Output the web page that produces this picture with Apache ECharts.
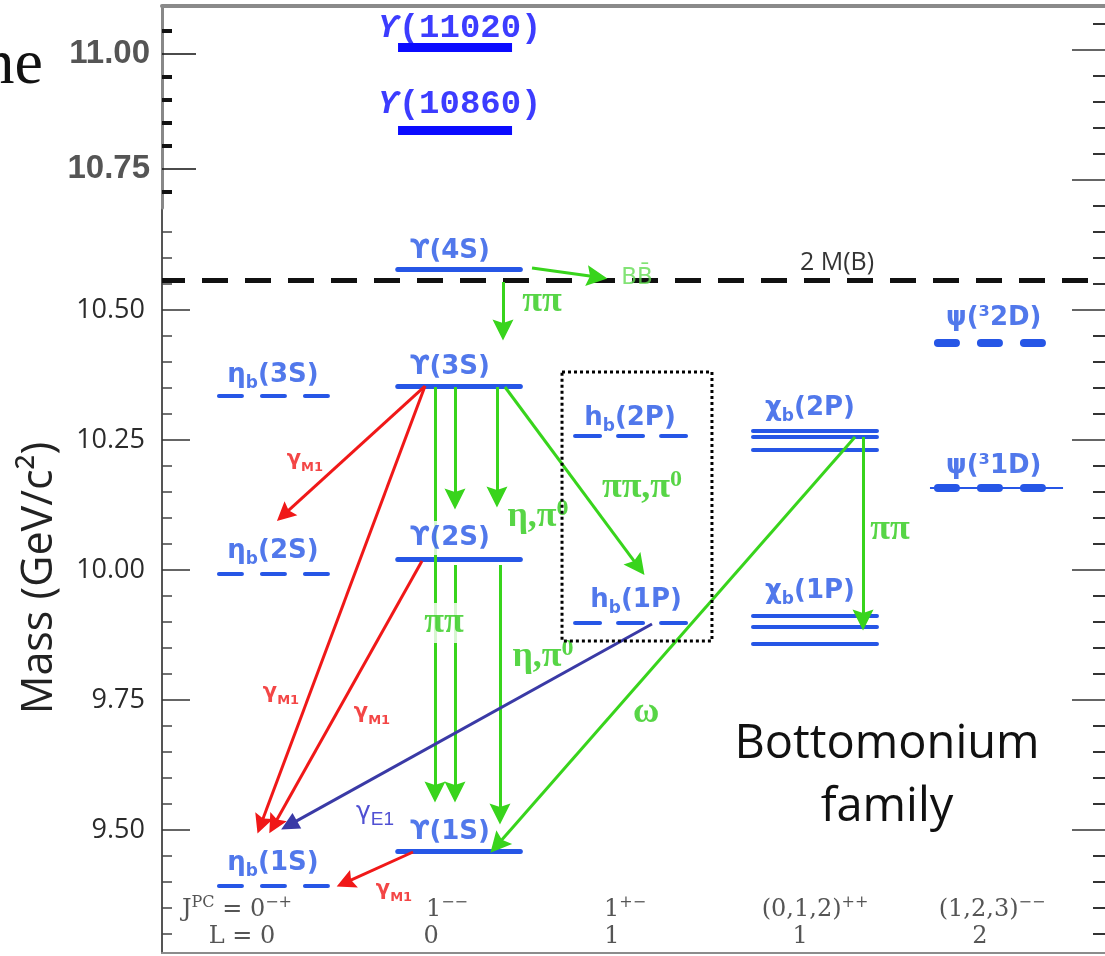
<!DOCTYPE html>
<html><head><meta charset="utf-8">
<script src="https://cdn.jsdelivr.net/npm/echarts@6/dist/echarts.min.js"></script>
<style>html,body{margin:0;padding:0;background:#fff}#c{width:1105px;height:956px}</style>
</head><body><div id="c"></div>
<script>
// ================= DATA =================
// mass axis (GeV/c^2)
const massMin = 9.26346, massMax = 11.08462;          // main frame
const insetMin = 10.6652, insetMax = 11.1043;          // pasted upper inset
const majorTicks = [9.50, 9.75, 10.00, 10.25, 10.50];
const rightMajorTicks = [9.50, 9.75, 10.00, 10.25, 10.50, 10.75, 11.00];
const insetMajorTicks = [10.75, 11.00];
const insetMinorTicks = [10.70, 10.80, 10.85, 10.90, 10.95, 11.05];

// columns (J^PC, L) – x extents of level bars in diagram units (0..100)
const colSpan = {
  etab: [6.04, 17.82], ups: [25.0, 38.0], upsHigh: [25.03, 37.12],
  hb: [43.8, 55.67], chib: [62.67, 75.82], psi2D: [81.44, 93.43], psi1D: [81.44, 95.55]
};

// levels (masses)
const upsilonNames = ['ϒ(11020)', 'ϒ(10860)', 'ϒ(4S)', 'ϒ(3S)', 'ϒ(2S)', 'ϒ(1S)'];
const upsilonMass  = [11.006, 10.846, 10.579, 10.354, 10.021, 9.460];
const upsilonLabelAt = [[31.59, 11.042], [31.59, 10.896], [30.54, 10.6135], [30.54, 10.3904], [30.54, 10.0615], [30.54, 9.4962]];
const etabNames = ['η_{b}(3S)', 'η_{b}(2S)', 'η_{b}(1S)'];
const etabMass  = [10.335, 9.992, 9.392];
const etabLabelAt = [[11.77, 10.375], [11.77, 10.036], [11.77, 9.436]];
const hbNames = ['h_{b}(2P)', 'h_{b}(1P)'];
const hbMass  = [10.258, 9.898];
const hbLabelAt = [[49.63, 10.2923], [50.27, 9.9423]];
const chibNames = ['χ_{b}(2P)', 'χ_{b}(1P)'];
const chib2PMass = [10.267, 10.256, 10.231];
const chib1PMass = [9.912, 9.890, 9.858];
const chibLabelAt = [[68.72, 10.3115], [68.72, 9.9596]];
const psiNames = ['ψ(³2D)', 'ψ(³1D)'];
const psiMass  = [10.437, 10.158];
const psiLabelAt = [[88.2, 10.4846], [88.2, 10.2000]];
const thresholdName = '2 M(B)';
const thresholdMass = 10.558;
const thresholdLabelAt = [71.58, 10.5904];

// transitions: [x0, m0, x1, m1]
const greenArrows = [
  [39.24, 10.5808, 46.13, 10.5635],   // ϒ(4S) -> BB̄
  [36.16, 10.5538, 36.16, 10.4615],   // ϒ(4S) -> ϒ(3S)
  [28.95, 10.3519, 28.95, 9.5731],    // ϒ(3S) -> ϒ(1S)
  [31.07, 10.3519, 31.07, 10.1365],   // ϒ(3S) -> ϒ(2S)
  [35.52, 10.3519, 35.52, 10.1404],   // ϒ(3S) -> ϒ(2S)
  [31.07, 10.0096, 31.07, 9.5731],    // ϒ(2S) -> ϒ(1S)
  [35.84, 10.0096, 35.84, 9.5308],    // ϒ(2S) -> ϒ(1S)
  [36.37, 10.3519, 50.50, 10.0065],   // ϒ(3S) -> hb(1P)
  [73.49, 10.2558, 35.56, 9.4712],    // χb(2P) -> ϒ(1S)
  [74.34, 10.2558, 74.34, 9.9038]     // χb(2P) -> χb(1P)
];
const redArrows = [
  [27.89, 10.3538, 12.93, 10.1065],   // ϒ(3S) -> ηb(2S)
  [27.89, 10.3538, 10.48, 9.5106],    // ϒ(3S) -> ηb(1S)
  [27.57, 10.0173, 11.87, 9.5096],    // ϒ(2S) -> ηb(1S)
  [26.62, 9.4577, 19.44, 9.3987]      // ϒ(1S) -> ηb(1S)
];
const blueArrows = [
  [51.96, 9.8962, 13.47, 9.5094]      // hb(1P) -> ηb(1S)
];
const greenLabels = [['ππ', 40.30, 10.5154], ['η,π^{0}', 39.87, 10.1019], ['ππ,π^{0}', 50.90, 10.1577],
  ['ππ', 29.90, 9.8981], ['η,π^{0}', 40.40, 9.8327], ['ω', 51.33, 9.725], ['ππ', 77.20, 10.0769]];
const decayLabel = ['BB̄', 50.37, 10.5615];
const redLabels = [['γ_{M1}', 15.16, 10.2115], ['γ_{M1}', 12.62, 9.7635], ['γ_{M1}', 22.27, 9.725], ['γ_{M1}', 24.60, 9.3846]];
const blueLabels = [['γ_{E1}', 22.59, 9.5327]];
const dottedBox = [[42.42, 10.3808], [58.32, 10.3808], [58.32, 9.8635], [42.42, 9.8635], [42.42, 10.3808]];

// quantum numbers under each column
const jpcLabels = [['J^{PC} = 0^{−+}', 7.95], ['1^{−−}', 30.22], ['1^{+−}', 49.10], ['(0,1,2)^{++}', 69.25], ['(1,2,3)^{−−}', 88.02]];
const lLabels   = [['L = 0', 8.48], ['0', 28.53], ['1', 47.72], ['1', 67.66], ['2', 86.74]];
const jpcRowMass = 9.3462, lRowMass = 9.2942;

// ================= CHART =================
const BLUE = '#2656e6', GREEN = '#38d41c', GREENT = '#2dcb18', RED = '#f01818', EBLUE = '#3a3aa6';
const HEAD = 'path://M10,0 L20,24 L10,20 L0,24 Z';

function richify(s, M, S, P) {
  const out = []; const re = /([_^])\{([^}]*)\}/g; let last = 0, mt;
  while ((mt = re.exec(s))) {
    if (mt.index > last) out.push('{' + M + '|' + s.slice(last, mt.index) + '}');
    out.push('{' + (mt[1] === '_' ? S : P) + '|' + mt[2] + '}');
    last = re.lastIndex;
  }
  if (last < s.length) out.push('{' + M + '|' + s.slice(last) + '}');
  return out.join('');
}
function range05(a, b, skip) {
  const r = [];
  for (let i = Math.round(a * 20); i <= Math.round(b * 20); i++) {
    const v = i / 20; if (!skip.some(s => Math.abs(s - v) < 1e-6)) r.push(v);
  }
  return r;
}
const leftMinor = range05(9.30, 10.65, majorTicks);
const rightMinor = range05(9.30, 11.05, rightMajorTicks);

const hLine = (span, m) => ({ coords: [[span[0], m], [span[1], m]] });
const arrowData = arr => arr.map(a => ({ coords: [[a[0], a[1]], [a[2], a[3]]] }));

const levelRich = {
  m: { fontFamily: 'DejaVu Sans', fontWeight: 'bold', fontSize: 26, color: BLUE, lineHeight: 34 },
  s: { fontFamily: 'DejaVu Sans', fontWeight: 'bold', fontSize: 17, color: BLUE, lineHeight: 17, verticalAlign: 'bottom' },
  p: { fontFamily: 'DejaVu Sans', fontWeight: 'bold', fontSize: 15, color: BLUE, lineHeight: 15, verticalAlign: 'top' },
  y: { fontFamily: 'Liberation Mono', fontWeight: 'bold', fontStyle: 'italic', fontSize: 34, color: '#0b0bff', lineHeight: 40 },
  k: { fontFamily: 'Liberation Mono', fontWeight: 'bold', fontSize: 34, color: '#0b0bff', lineHeight: 40 }
};
const greenRich = {
  g: { fontFamily: 'Liberation Serif', fontWeight: 'bold', fontSize: 36, color: GREENT, lineHeight: 40 },
  gs: { fontFamily: 'Liberation Serif', fontWeight: 'bold', fontSize: 24, color: GREENT, lineHeight: 24, verticalAlign: 'top' }
};
const redRich = {
  r: { fontFamily: 'DejaVu Sans', fontWeight: 'bold', fontSize: 21, color: RED, lineHeight: 28 },
  rs: { fontFamily: 'DejaVu Sans', fontWeight: 'bold', fontSize: 13, color: RED, lineHeight: 13, verticalAlign: 'bottom' }
};
const blueRich = {
  b: { fontFamily: 'DejaVu Sans', fontSize: 25, color: '#2424c8', lineHeight: 32 },
  bs: { fontFamily: 'Liberation Sans', fontSize: 19, color: '#2424c8', lineHeight: 19, verticalAlign: 'bottom' }
};
const qnRich = {
  t: { fontFamily: 'DejaVu Serif', fontSize: 24, color: '#2a2a2a', lineHeight: 30 },
  u: { fontFamily: 'DejaVu Serif', fontSize: 16, color: '#2a2a2a', lineHeight: 16, verticalAlign: 'top' }
};

function labelSeries(items, rich, z) {
  return {
    type: 'scatter', xAxisIndex: 0, yAxisIndex: 0, symbol: 'circle', symbolSize: 0, silent: true, z: z || 6,
    label: { show: true, position: 'inside', formatter: p => p.name, rich: rich },
    data: items
  };
}

const levelLabelItems = [];
upsilonNames.forEach((n, i) => {
  let rs;
  if (i < 2) rs = '{y|ϒ}{k|' + n.slice(1) + '}';
  else rs = richify(n, 'm', 's', 'p');
  const item = { name: rs, value: upsilonLabelAt[i] };
  if (i === 4) item.label = { backgroundColor: '#fff', padding: [0, 2] };
  levelLabelItems.push(item);
});
etabNames.forEach((n, i) => levelLabelItems.push({ name: richify(n, 'm', 's', 'p'), value: etabLabelAt[i] }));
hbNames.forEach((n, i) => levelLabelItems.push({ name: richify(n, 'm', 's', 'p'), value: hbLabelAt[i] }));
chibNames.forEach((n, i) => levelLabelItems.push({ name: richify(n, 'm', 's', 'p'), value: chibLabelAt[i] }));
psiNames.forEach((n, i) => levelLabelItems.push({ name: richify(n, 'm', 's', 'p'), value: psiLabelAt[i] }));

const greenItems = greenLabels.map((g, i) => {
  const it = { name: richify(g[0], 'g', 'gs', 'gs'), value: [g[1], g[2]] };
  if (i === 3) it.label = { backgroundColor: '#fff', padding: [0, 1] };
  return it;
});

const lineBase = { type: 'lines', coordinateSystem: 'cartesian2d', xAxisIndex: 0, yAxisIndex: 0, silent: true };

const series = [
  // threshold 2M(B)
  Object.assign({}, lineBase, { z: 2, lineStyle: { color: '#111', width: 5, opacity: 1, type: [26, 17], dashOffset: 3 },
    data: [hLine([0, 100], thresholdMass)] }),
  // Upsilon levels
  Object.assign({}, lineBase, { z: 2, lineStyle: { color: BLUE, width: 5, opacity: 1, cap: 'round' },
    data: upsilonMass.slice(2).map(m => hLine(colSpan.ups, m)) }),
  Object.assign({}, lineBase, { z: 2, lineStyle: { color: '#0b0bff', width: 9, opacity: 1 },
    data: upsilonMass.slice(0, 2).map(m => hLine(colSpan.upsHigh, m)) }),
  // eta_b (dashed)
  Object.assign({}, lineBase, { z: 2, lineStyle: { color: BLUE, width: 4, opacity: 1, type: [23, 20], cap: 'round' },
    data: etabMass.map(m => hLine(colSpan.etab, m)) }),
  // h_b (dashed)
  Object.assign({}, lineBase, { z: 2, lineStyle: { color: BLUE, width: 4, opacity: 1, type: [25, 18], cap: 'round' },
    data: hbMass.map(m => hLine(colSpan.hb, m)) }),
  // chi_b triplets
  Object.assign({}, lineBase, { z: 2, lineStyle: { color: BLUE, width: 4, opacity: 1, cap: 'round' },
    data: chib2PMass.concat(chib1PMass).map(m => hLine(colSpan.chib, m)) }),
  // psi D states
  Object.assign({}, lineBase, { z: 2, lineStyle: { color: BLUE, width: 2, opacity: 1 },
    data: [hLine(colSpan.psi1D, psiMass[1])] }),
  Object.assign({}, lineBase, { z: 2, lineStyle: { color: BLUE, width: 8, opacity: 1, type: [18, 25], cap: 'round', dashOffset: -4 },
    data: psiMass.map(m => hLine([colSpan.psi2D[0] + 0.42, colSpan.psi2D[1]], m)) }),
  // transitions
  Object.assign({}, lineBase, { z: 3, symbol: ['none', HEAD], symbolSize: 21,
    lineStyle: { color: GREEN, width: 3, opacity: 1 }, data: arrowData(greenArrows) }),
  Object.assign({}, lineBase, { z: 3, symbol: ['none', HEAD], symbolSize: 19,
    lineStyle: { color: RED, width: 3, opacity: 1 }, data: arrowData(redArrows) }),
  Object.assign({}, lineBase, { z: 4, symbol: ['none', 'triangle'], symbolSize: 18,
    lineStyle: { color: EBLUE, width: 3, opacity: 1 }, data: arrowData(blueArrows) }),
  // labels
  labelSeries(levelLabelItems, levelRich, 6),
  labelSeries(greenItems, greenRich, 6),
  labelSeries([{ name: '{d|' + decayLabel[0] + '}', value: [decayLabel[1], decayLabel[2]] }],
    { d: { fontFamily: 'DejaVu Sans', fontSize: 23, color: '#63dc52' } }, 6),
  labelSeries([{ name: '{d|' + thresholdName + '}', value: thresholdLabelAt }],
    { d: { fontFamily: 'Open Sans', fontSize: 25, color: '#000' } }, 6),
  labelSeries(redLabels.map(r => ({ name: richify(r[0], 'r', 'rs', 'rs'), value: [r[1], r[2]] })), redRich, 6),
  labelSeries(blueLabels.map(r => ({ name: richify(r[0], 'b', 'bs', 'bs'), value: [r[1], r[2]] })), blueRich, 6),
  labelSeries(jpcLabels.map(q => ({ name: richify(q[0], 't', 'u', 'u'), value: [q[1], jpcRowMass] })), qnRich, 6),
  labelSeries(lLabels.map(q => ({ name: richify(q[0], 't', 'u', 'u'), value: [q[1], lRowMass] })), qnRich, 6),
  // dotted box around h_b
  Object.assign({}, lineBase, { z: 8, polyline: true, lineStyle: { color: '#000', width: 3, opacity: 1, type: [3, 3] },
    data: [{ coords: dottedBox }] })
];

const noLine = { show: false, onZero: false };
const option = {
  animation: false,
  backgroundColor: '#ffffff',
  grid: [
    { left: 162, right: 0, top: 6, bottom: 3 },
    { left: 162, right: 0, top: 6, height: 202 }
  ],
  xAxis: [
    { gridIndex: 0, type: 'value', min: 0, max: 100, position: 'bottom',
      axisLine: { show: true, onZero: false, lineStyle: { color: '#8c8c8c', width: 2 } },
      axisTick: { show: false }, axisLabel: { show: false }, splitLine: { show: false } },
    { gridIndex: 1, type: 'value', min: 0, max: 100, position: 'top',
      axisLine: { show: true, onZero: false, lineStyle: { color: '#8a8a8a', width: 4 } },
      axisTick: { show: false }, axisLabel: { show: false }, splitLine: { show: false } }
  ],
  yAxis: [
    { gridIndex: 0, type: 'value', position: 'left', min: massMin, max: massMax,
      axisLine: { show: true, onZero: false, lineStyle: { color: '#555', width: 2 } },
      axisTick: { show: true, inside: true, length: 28, customValues: majorTicks, lineStyle: { color: '#333', width: 1.5 } },
      axisLabel: { show: true, customValues: majorTicks, formatter: v => v.toFixed(2), margin: 17,
        fontFamily: 'Open Sans', fontSize: 27, color: '#2b2b2b' },
      splitLine: { show: false } },
    { gridIndex: 0, type: 'value', position: 'left', min: massMin, max: massMax, axisLine: noLine,
      axisTick: { show: true, inside: true, length: 10, customValues: leftMinor, lineStyle: { color: '#444', width: 1.5 } },
      axisLabel: { show: false }, splitLine: { show: false } },
    { gridIndex: 0, type: 'value', position: 'right', min: massMin, max: massMax, axisLine: noLine,
      axisTick: { show: true, inside: true, length: 33, customValues: rightMajorTicks, lineStyle: { color: '#333', width: 1.5 } },
      axisLabel: { show: false }, splitLine: { show: false } },
    { gridIndex: 0, type: 'value', position: 'right', min: massMin, max: massMax, axisLine: noLine,
      axisTick: { show: true, inside: true, length: 12, customValues: rightMinor, lineStyle: { color: '#333', width: 2 } },
      axisLabel: { show: false }, splitLine: { show: false } },
    { gridIndex: 1, type: 'value', position: 'left', min: insetMin, max: insetMax,
      axisLine: { show: true, onZero: false, lineStyle: { color: '#888', width: 3 } },
      axisTick: { show: true, inside: true, length: 34, customValues: insetMajorTicks, lineStyle: { color: '#111', width: 1.5 } },
      axisLabel: { show: true, customValues: insetMajorTicks, formatter: v => v.toFixed(2), margin: 12,
        fontFamily: 'Liberation Sans', fontWeight: 'bold', fontSize: 33, color: '#555' },
      splitLine: { show: false } },
    { gridIndex: 1, type: 'value', position: 'left', min: insetMin, max: insetMax, axisLine: noLine,
      axisTick: { show: true, inside: true, length: 10, customValues: insetMinorTicks, lineStyle: { color: '#111', width: 4 } },
      axisLabel: { show: false }, splitLine: { show: false } }
  ],
  graphic: [
    { type: 'text', x: 43, y: 66, style: { text: 'ne', font: '64px "Liberation Serif"', fill: '#111', textAlign: 'right', textVerticalAlign: 'middle' } },
    { type: 'text', x: 40, y: 578, rotation: Math.PI / 2,
      style: { text: 'Mass (GeV/c²)', font: '43px "Open Sans"', fill: '#222', textAlign: 'center', textVerticalAlign: 'middle' } },
    { type: 'text', x: 887, y: 776, z: 10,
      style: { text: 'Bottomonium\nfamily', font: '47px "Open Sans"', lineHeight: 63, fill: '#111', textAlign: 'center', textVerticalAlign: 'middle' } }
  ],
  series: series
};
const chart = echarts.init(document.getElementById('c'), null, { renderer: 'canvas' });
chart.setOption(option);
</script></body></html>
